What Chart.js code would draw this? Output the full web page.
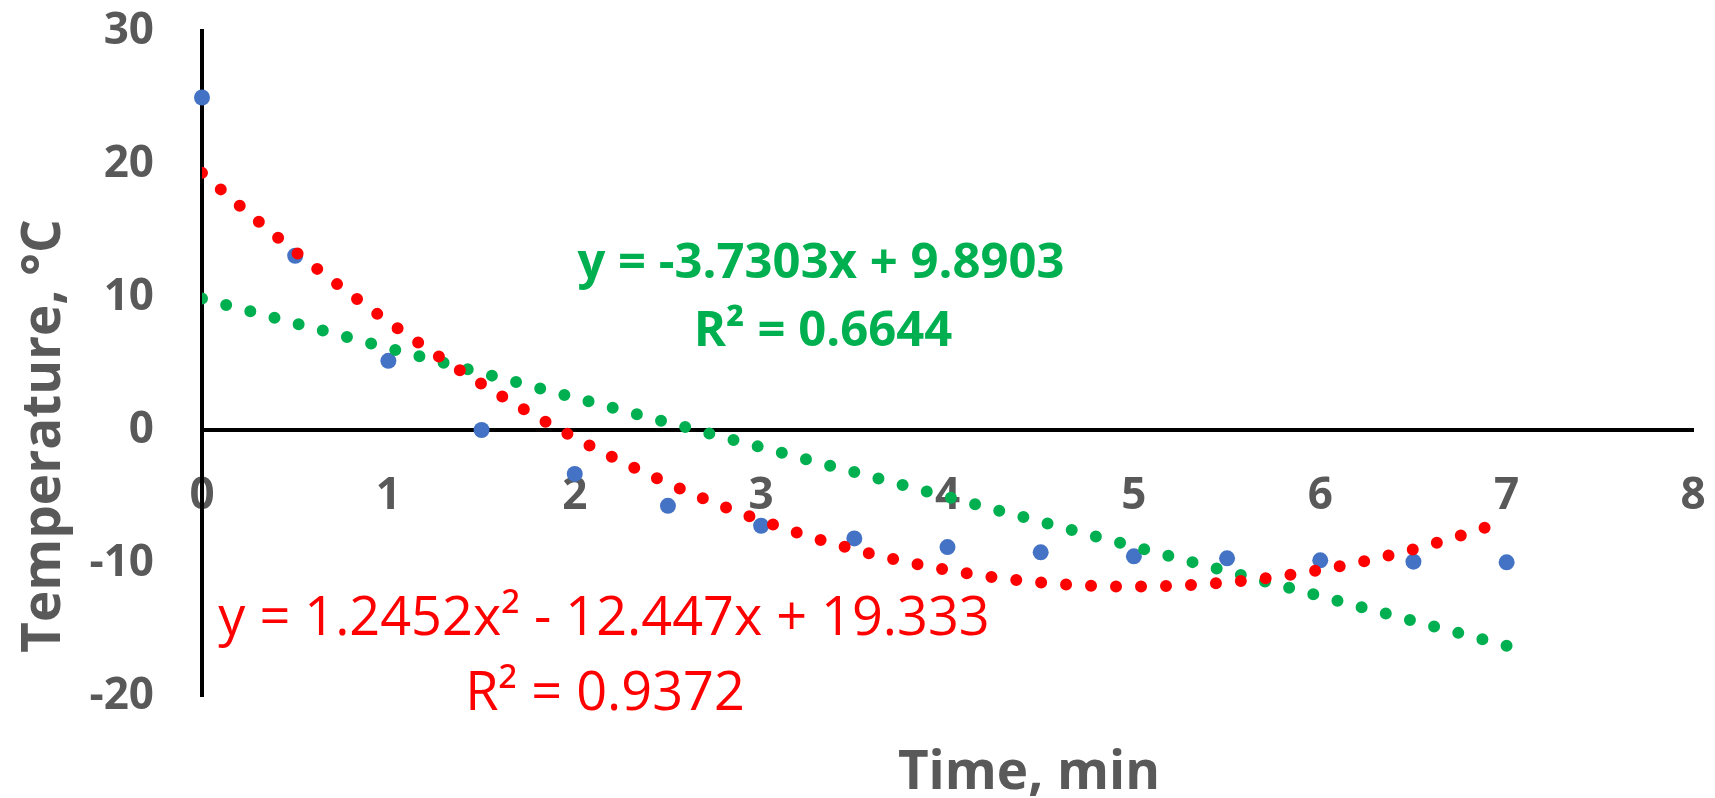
<!DOCTYPE html>
<html>
<head>
<meta charset="utf-8">
<script src="https://cdn.jsdelivr.net/npm/chart.js@4.4.1/dist/chart.umd.min.js"></script>
<style>
  html, body { margin: 0; padding: 0; background: #ffffff; }
  #wrap { width: 1715px; height: 798px; }
</style>
</head>
<body>
<div id="wrap"><canvas id="c" width="1715" height="798"></canvas></div>
<script>
// ---- data ----
const timeMin = [0, 0.5, 1, 1.5, 2, 2.5, 3, 3.5, 4, 4.5, 5, 5.5, 6, 6.5, 7];
const tempC   = [25, 13.1, 5.2, 0, -3.3, -5.7, -7.2, -8.15, -8.8, -9.2, -9.5, -9.65, -9.8, -9.9, -9.95];
const xTicks = [0, 1, 2, 3, 4, 5, 6, 7, 8];
const yTicks = [-20, -10, 0, 10, 20, 30];
// trendline coefficients as printed on the chart (c0 + c1*x + c2*x^2)
const linearCoef = [9.8903, -3.7303];
const polyCoef = [19.333, -12.447, 1.2452];
const trendRange = [0, 7];
const linearLabel = ['y = -3.7303x + 9.8903', 'R\u00B2 = 0.6644'];
const polyLabel = ['y = 1.2452x\u00B2 - 12.447x + 19.333', 'R\u00B2 = 0.9372'];
const xTitle = 'Time, min';
const yTitle = 'Temperature, \u00B0C';

// ---- build chart structures ----
function trendPoints(coef) {
  const pts = [];
  const n = 350;
  for (let i = 0; i <= n; i++) {
    const x = trendRange[0] + (trendRange[1] - trendRange[0]) * i / n;
    let y = 0;
    for (let k = 0; k < coef.length; k++) y += coef[k] * Math.pow(x, k);
    pts.push({ x, y });
  }
  return pts;
}
const scatterData = timeMin.map((t, i) => ({ x: t, y: tempC[i] }));

const GRAY = '#595959';
const BLUE = '#4472C4';
const GREEN = '#00B050';
const RED = '#FF0000';

const textPlugin = {
  id: 'texts',
  afterDraw(chart) {
    const ctx = chart.ctx;
    ctx.save();
    ctx.fillStyle = GRAY;
    ctx.textAlign = 'center';
    ctx.textBaseline = 'alphabetic';
    // x title
    ctx.font = 'bold 53px "Open Sans"';
    ctx.fillText(xTitle, 1029, 789);
    // y title
    ctx.save();
    ctx.translate(60, 436);
    ctx.rotate(-Math.PI / 2);
    ctx.fillText(yTitle, 0, 0);
    ctx.restore();
    // linear equation
    ctx.fillStyle = GREEN;
    ctx.font = 'bold 49px "Open Sans"';
    ctx.fillText(linearLabel[0], 821, 278);
    ctx.fillText(linearLabel[1], 823, 346);
    // polynomial equation
    ctx.fillStyle = RED;
    ctx.font = '54px "Open Sans"';
    ctx.fillText(polyLabel[0], 604, 635);
    ctx.fillText(polyLabel[1], 605, 710);
    ctx.restore();
  }
};

function noPad(scale) {
  scale.paddingTop = 0;
  scale.paddingBottom = 0;
  scale.paddingLeft = 0;
  scale.paddingRight = 0;
}

function makeChart() {
  new Chart(document.getElementById('c'), {
    type: 'scatter',
    data: {
      datasets: [
        {
          label: 'Poly trend',
          type: 'line',
          data: trendPoints(polyCoef),
          borderColor: RED,
          borderWidth: 12,
          borderDash: [0, 25],
          borderCapStyle: 'round',
          pointRadius: 0,
          tension: 0,
          fill: false,
          clip: 0,
          order: 1
        },
        {
          label: 'Linear trend',
          type: 'line',
          data: trendPoints(linearCoef),
          borderColor: GREEN,
          borderWidth: 12,
          borderDash: [0, 25],
          borderCapStyle: 'round',
          pointRadius: 0,
          tension: 0,
          fill: false,
          clip: 0,
          order: 2
        },
        {
          label: 'Temperature',
          data: scatterData,
          backgroundColor: BLUE,
          borderWidth: 0,
          pointRadius: 8,
          pointHoverRadius: 8,
          clip: false,
          order: 3
        }
      ]
    },
    options: {
      responsive: false,
      animation: false,
      events: [],
      layout: { padding: { left: 0, top: 31, right: 22, bottom: 102 } },
      plugins: { legend: { display: false }, tooltip: { enabled: false } },
      scales: {
        x: {
          type: 'linear',
          position: { y: 0 },
          min: xTicks[0],
          max: xTicks[xTicks.length - 1],
          afterBuildTicks(scale) { scale.ticks = xTicks.map(v => ({ value: v })); },
          afterFit(scale) { noPad(scale); },
          grid: { display: false, drawTicks: false },
          border: { display: true, color: '#000000', width: 4 },
          ticks: {
            color: GRAY,
            padding: 40,
            maxRotation: 0,
            autoSkip: false,
            font: { family: '"Open Sans"', size: 44, weight: 'bold' }
          }
        },
        y: {
          type: 'linear',
          position: 'left',
          min: yTicks[0],
          max: yTicks[yTicks.length - 1],
          afterBuildTicks(scale) { scale.ticks = yTicks.map(v => ({ value: v })); },
          afterFit(scale) { scale.width = 202; noPad(scale); },
          grid: { display: false, drawTicks: false },
          border: { display: true, color: '#000000', width: 4 },
          ticks: {
            color: GRAY,
            padding: 48,
            autoSkip: false,
            font: { family: '"Open Sans"', size: 44, weight: 'bold' }
          }
        }
      }
    },
    plugins: [textPlugin]
  });
}

let started = false;
function start() { if (!started) { started = true; makeChart(); } }
if (document.fonts && document.fonts.load) {
  Promise.all([
    document.fonts.load('bold 44px "Open Sans"'),
    document.fonts.load('54px "Open Sans"')
  ]).then(start, start);
  setTimeout(start, 1500);
} else {
  start();
}
</script>
</body>
</html>
